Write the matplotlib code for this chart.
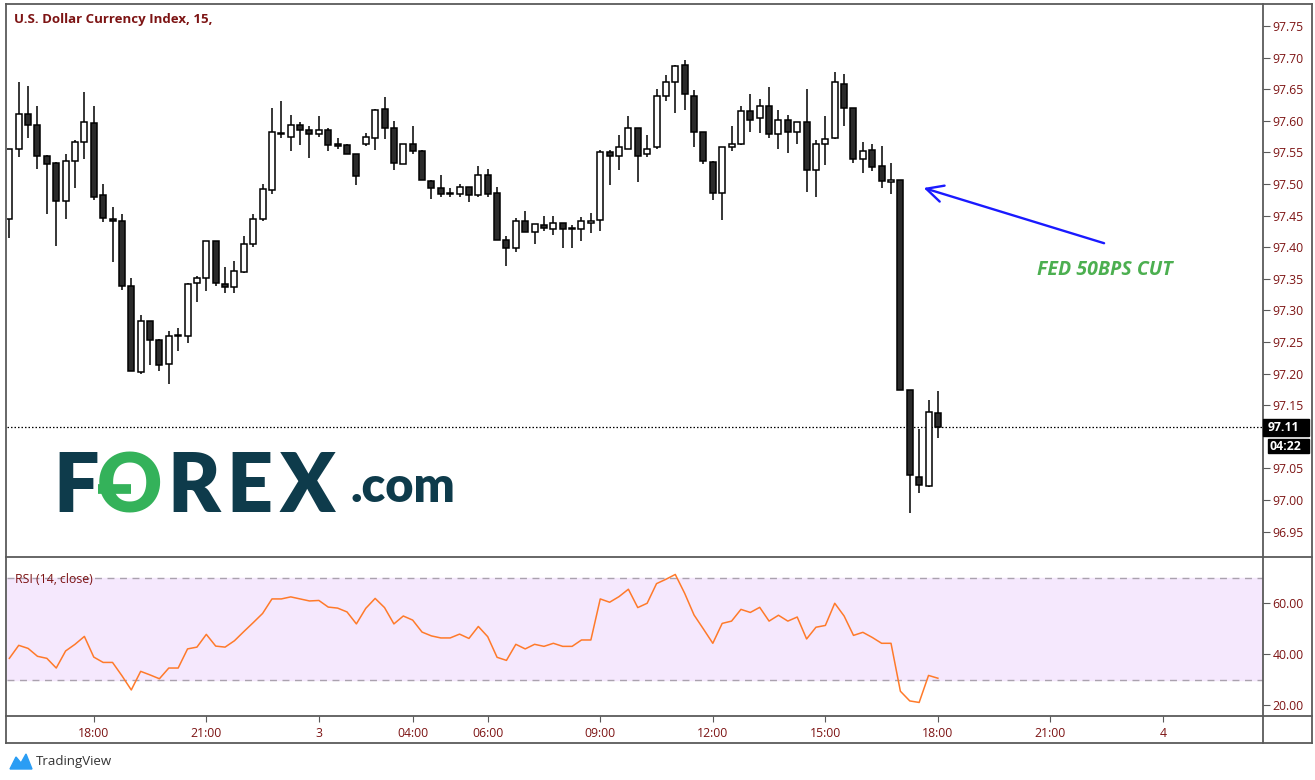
import numpy as np
import matplotlib.pyplot as plt
from matplotlib.patches import Rectangle, Polygon
from matplotlib.lines import Line2D

# 15-minute OHLC
opens = [97.444, 97.555, 97.610, 97.593, 97.545, 97.533, 97.473, 97.537, 97.566, 97.596,
         97.482, 97.444, 97.441, 97.338, 97.202, 97.283, 97.253, 97.215, 97.261, 97.259,
         97.343, 97.351, 97.409, 97.341, 97.337, 97.360, 97.405, 97.444, 97.490, 97.581,
         97.575, 97.593, 97.585, 97.579, 97.585, 97.563, 97.561, 97.547, 97.564, 97.572,
         97.618, 97.588, 97.531, 97.563, 97.552, 97.504, 97.493, 97.485, 97.484, 97.496,
         97.482, 97.515, 97.485, 97.411, 97.398, 97.441, 97.424, 97.435, 97.428, 97.438,
         97.430, 97.428, 97.439, 97.443, 97.550, 97.544, 97.556, 97.588, 97.547, 97.558,
         97.639, 97.661, 97.688, 97.640, 97.583, 97.534, 97.485, 97.558, 97.563, 97.615,
         97.604, 97.624, 97.579, 97.602, 97.583, 97.598, 97.522, 97.564, 97.572, 97.658,
         97.621, 97.539, 97.553, 97.528, 97.503, 97.507, 97.174, 97.037, 97.022, 97.137]
highs = [97.556, 97.661, 97.655, 97.623, 97.546, 97.534, 97.547, 97.570, 97.646, 97.623,
         97.500, 97.464, 97.453, 97.351, 97.292, 97.283, 97.254, 97.268, 97.272, 97.344,
         97.355, 97.409, 97.409, 97.368, 97.378, 97.417, 97.453, 97.500, 97.620, 97.631,
         97.609, 97.598, 97.591, 97.607, 97.588, 97.572, 97.563, 97.547, 97.580, 97.618,
         97.638, 97.599, 97.564, 97.591, 97.553, 97.507, 97.514, 97.493, 97.500, 97.496,
         97.528, 97.523, 97.495, 97.417, 97.446, 97.457, 97.436, 97.450, 97.449, 97.438,
         97.435, 97.447, 97.454, 97.553, 97.553, 97.577, 97.607, 97.588, 97.577, 97.650,
         97.672, 97.689, 97.696, 97.648, 97.583, 97.536, 97.558, 97.591, 97.623, 97.642,
         97.634, 97.653, 97.617, 97.609, 97.598, 97.650, 97.569, 97.607, 97.677, 97.674,
         97.621, 97.566, 97.563, 97.560, 97.533, 97.507, 97.174, 97.112, 97.159, 97.172]
lows = [97.415, 97.543, 97.572, 97.524, 97.453, 97.402, 97.444, 97.494, 97.539, 97.475,
        97.440, 97.376, 97.333, 97.204, 97.199, 97.213, 97.204, 97.183, 97.235, 97.249,
        97.314, 97.330, 97.339, 97.328, 97.328, 97.359, 97.400, 97.441, 97.484, 97.572,
        97.552, 97.561, 97.541, 97.575, 97.552, 97.556, 97.547, 97.498, 97.560, 97.553,
        97.571, 97.522, 97.531, 97.547, 97.506, 97.476, 97.480, 97.480, 97.480, 97.471,
        97.480, 97.480, 97.411, 97.370, 97.393, 97.424, 97.405, 97.425, 97.420, 97.398,
        97.398, 97.409, 97.422, 97.425, 97.498, 97.522, 97.555, 97.503, 97.542, 97.556,
        97.631, 97.612, 97.617, 97.558, 97.531, 97.474, 97.443, 97.552, 97.561, 97.583,
        97.580, 97.572, 97.556, 97.549, 97.564, 97.488, 97.480, 97.530, 97.571, 97.592,
        97.533, 97.517, 97.520, 97.493, 97.484, 97.174, 96.980, 97.011, 97.020, 97.098]
closes = [97.555, 97.610, 97.593, 97.545, 97.531, 97.473, 97.536, 97.566, 97.598, 97.480,
          97.446, 97.441, 97.338, 97.204, 97.283, 97.253, 97.213, 97.259, 97.259, 97.341,
          97.351, 97.409, 97.343, 97.337, 97.362, 97.405, 97.444, 97.492, 97.582, 97.579,
          97.593, 97.585, 97.579, 97.585, 97.561, 97.560, 97.547, 97.512, 97.574, 97.617,
          97.588, 97.533, 97.563, 97.552, 97.507, 97.493, 97.484, 97.484, 97.496, 97.482,
          97.515, 97.484, 97.411, 97.398, 97.441, 97.424, 97.436, 97.430, 97.438, 97.428,
          97.428, 97.441, 97.441, 97.550, 97.544, 97.558, 97.588, 97.545, 97.556, 97.639,
          97.661, 97.686, 97.642, 97.582, 97.536, 97.485, 97.558, 97.563, 97.615, 97.602,
          97.624, 97.579, 97.602, 97.582, 97.598, 97.522, 97.564, 97.571, 97.661, 97.620,
          97.539, 97.552, 97.527, 97.504, 97.506, 97.174, 97.039, 97.023, 97.139, 97.115]

rsi = [38.3, 43.4, 42.2, 39.1, 38.3, 34.5, 41.2, 43.8, 46.9, 38.8,
       36.7, 36.7, 31.5, 25.9, 33.2, 31.8, 30.3, 34.5, 34.5, 42.0,
       42.7, 47.7, 43.1, 42.7, 45.2, 48.8, 52.3, 55.9, 61.6, 61.6,
       62.4, 61.6, 60.8, 61.0, 58.4, 58.0, 56.5, 51.8, 57.9, 61.8,
       58.2, 51.8, 54.9, 53.3, 48.6, 47.1, 46.3, 46.3, 47.8, 46.1,
       50.8, 46.8, 38.7, 37.5, 43.8, 42.0, 43.8, 43.0, 44.2, 43.0,
       43.0, 45.5, 45.5, 61.6, 60.3, 62.5, 65.4, 58.2, 59.9, 67.6,
       69.3, 71.2, 63.8, 55.3, 49.8, 44.2, 52.0, 52.9, 57.5, 56.3,
       58.3, 52.9, 55.2, 52.9, 54.5, 45.9, 50.5, 51.2, 59.9, 54.9,
       47.3, 48.5, 46.5, 44.2, 44.2, 25.4, 21.6, 21.0, 31.6, 30.5]

time_pos = [9, 21, 33, 43, 51, 63, 75, 87, 99, 111, 123]
time_labels = ['18:00', '21:00', '3', '04:00', '06:00', '09:00', '12:00', '15:00', '18:00', '21:00', '4']
price_ticks = [96.95, 97.00, 97.05, 97.15, 97.20, 97.25, 97.30, 97.35, 97.40, 97.45,
               97.50, 97.55, 97.60, 97.65, 97.70, 97.75]
rsi_ticks = [20, 40, 60]
last_label = '97.11'
timer_label = '04:22'

W, H = 1315, 780
TXT = '#7d1414'
FRAME = '#5a5a5a'
plt.rcParams['font.family'] = ['Open Sans', 'DejaVu Sans']

fig = plt.figure(figsize=(W / 100, H / 100), dpi=100)


def fx(px):
    return px / W


def fy(py):
    return 1 - py / H


L, R, T, SEP, BOT, OUT = 7, 1263, 5, 557, 716, 743
ax = fig.add_axes([fx(L), fy(SEP), fx(R) - fx(L), fy(T) - fy(SEP)])
ax2 = fig.add_axes([fx(L), fy(BOT), fx(R) - fx(L), fy(SEP) - fy(BOT)])

x = np.arange(len(closes))
o = np.array(opens); c = np.array(closes)
up = c >= o
ax.vlines(x, lows, highs, color='black', lw=1.1, zorder=2)
body_lo = np.minimum(o, c)
body_h = np.maximum(np.abs(c - o), 0.0012)
ax.bar(x, body_h, bottom=body_lo, width=0.64,
       color=np.where(up, 'white', '#2b2b2b'), edgecolor='black', lw=1.1, zorder=3)

ax.axhline(closes[-1], color='black', ls=(0, (1.2, 1.6)), lw=0.9, zorder=1)

ax.set_xlim(-0.25, 133.66)
ax.set_ylim(96.9098, 97.7832)
ax.yaxis.tick_right()
ax.set_yticks(price_ticks)
ax.set_yticklabels(['%.2f' % p for p in price_ticks])
ax.tick_params(axis='y', colors=FRAME, labelcolor=TXT, labelsize=8.8, length=5, pad=2)
ax.set_xticks([])
for s in ax.spines.values():
    s.set_visible(False)

# annotation
ax.annotate('', xy=(97.2, 97.495), xytext=(117.0, 97.405),
            arrowprops=dict(arrowstyle='->', color='#1a1aff', lw=1.7, mutation_scale=30))
ax.text(116.8, 97.364, 'FED 50BPS CUT', color='#4caf50', fontsize=14,
        fontweight='bold', fontstyle='italic', ha='center', va='center')

# RSI pane
ax2.axhspan(30, 70, color='#f5e8fd', zorder=0)
for lv in (30, 70):
    ax2.axhline(lv, color='#aaa2ae', lw=1, ls=(0, (5, 4)), zorder=1)
ax2.plot(x, rsi, color='#ff7a2a', lw=1.1, zorder=2)
ax2.set_xlim(-0.25, 133.66)
ax2.set_ylim(15.69, 78.04)
ax2.yaxis.tick_right()
ax2.set_yticks(rsi_ticks)
ax2.set_yticklabels(['%.2f' % v for v in rsi_ticks])
ax2.tick_params(axis='y', colors=FRAME, labelcolor=TXT, labelsize=8.8, length=5, pad=2)
ax2.set_xticks(time_pos)
ax2.set_xticklabels(time_labels)
ax2.tick_params(axis='x', colors=FRAME, labelcolor=TXT, labelsize=8.8, length=4, pad=4)
for s in ax2.spines.values():
    s.set_visible(False)
ax2.text(0.006, 0.86, 'RSI (14, close)', transform=ax2.transAxes, color=TXT, fontsize=8.8,
         ha='left', va='center')

# frame lines
def hline(py, x0=6, x1=1312):
    fig.add_artist(Line2D([fx(x0), fx(x1)], [fy(py), fy(py)], color=FRAME, lw=1.3))


def vline(px, y0=4, y1=OUT):
    fig.add_artist(Line2D([fx(px), fx(px)], [fy(y0), fy(y1)], color=FRAME, lw=1.3))


hline(4); hline(SEP); hline(BOT); hline(OUT)
vline(6); vline(R); vline(1312)

# title
fig.text(fx(14), fy(20), 'U.S. Dollar Currency Index, 15,', color=TXT, fontsize=9.5,
         fontweight='bold', ha='left', va='center')

# last price tags
fig.add_artist(Rectangle((fx(R), fy(436)), fx(1309) - fx(R), fy(419) - fy(436),
                         transform=fig.transFigure, color='black', zorder=5))
fig.text(fx(1268), fy(427.5), last_label, color='white', fontsize=8.8, fontweight='bold',
         ha='left', va='center', zorder=6)
fig.add_artist(Rectangle((fx(1268), fy(453)), fx(1309) - fx(1268), fy(439) - fy(453),
                         transform=fig.transFigure, color='black', zorder=5))
fig.text(fx(1270), fy(446), timer_label, color='white', fontsize=8.8, fontweight='bold',
         ha='left', va='center', zorder=6)

# FOREX.com watermark
DARK = '#0e3b4b'
GREEN = '#34b25a'
logo_y = fy(489)
for ch, px, col in [('F', 53, DARK), ('O', 97, GREEN), ('R', 167, DARK), ('E', 226, DARK), ('X', 280, DARK)]:
    fig.text(fx(px), logo_y, ch, color=col, fontsize=58, fontweight='heavy',
             family=['Lato', 'DejaVu Sans'], ha='left', va='center')
fig.add_artist(Line2D([fx(98), fx(131)], [logo_y, logo_y], color=GREEN, lw=7,
                      solid_capstyle='butt'))
fig.text(fx(350), fy(487), '.com', color=DARK, fontsize=35, fontweight='heavy',
         family=['Lato', 'DejaVu Sans'], ha='left', va='center')

# TradingView footer
fig.add_artist(Polygon([(fx(10), fy(769)), (fx(16), fy(757)), (fx(21), fy(763)),
                        (fx(26), fy(754)), (fx(32), fy(769))],
                       closed=True, transform=fig.transFigure, color='#2a9df4'))
fig.text(fx(36), fy(762), 'TradingView', color='#333333', fontsize=9.5, ha='left', va='center')

fig.savefig('out.png', dpi=100)
